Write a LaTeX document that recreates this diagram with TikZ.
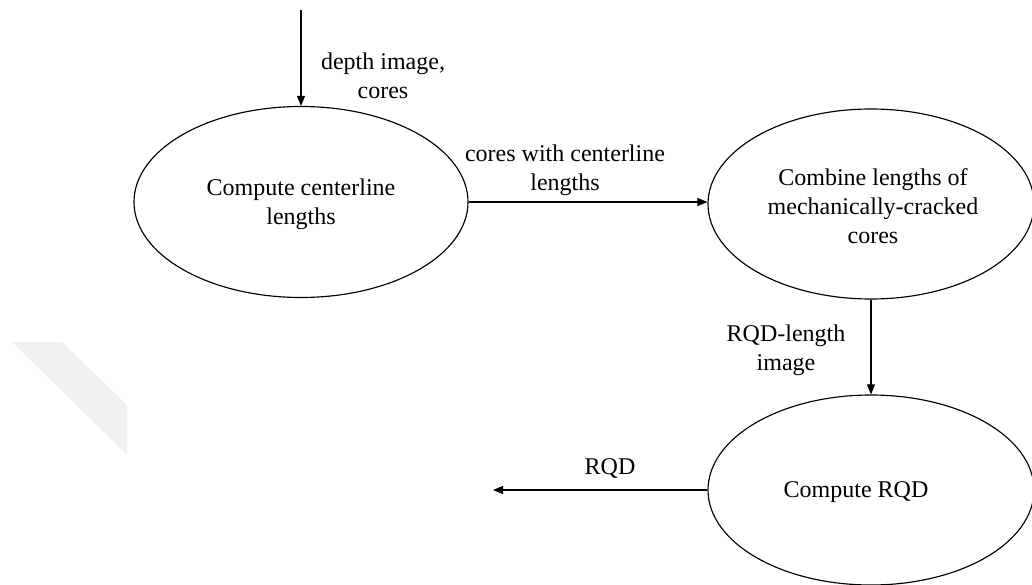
\documentclass[tikz,border=0pt]{standalone}
\usepackage{fontspec}
\setmainfont{Liberation Serif}
\usetikzlibrary{shapes.geometric,arrows.meta}
\begin{document}
\begin{tikzpicture}[x=1pt,y=-1pt,
  every node/.style={font=\fontsize{24}{29}\selectfont, align=center},
  proc/.style={draw, ellipse, line width=1.15pt, inner sep=0pt},
  flow/.style={line width=1.1pt, -{Triangle[length=10pt,width=8pt]}},
  lbl/.style={inner sep=0pt}
]
\useasboundingbox (0,0) rectangle (1032,585);
% faint watermark band
\fill[black!6] (12,342) -- (62,342) -- (127,405) -- (127,455) -- cycle;

\node[proc, minimum width=334pt, minimum height=191pt] (e1) at (301,202) {};
\node[lbl] (t1) at (301,204) {Compute centerline\\lengths};

\node[proc, minimum width=326pt, minimum height=190pt] (e2) at (871,204) {};
\node[lbl] (t2) at (873,206) {Combine lengths of\\mechanically-cracked\\cores};

\node[proc, minimum width=326pt, minimum height=190pt] (e3) at (871,490) {};
\node[lbl] (t3) at (856,492) {Compute RQD};

\coordinate (in) at (301,10);
\coordinate (out) at (493,490);

\draw[flow] (in) -- (e1.north);
\draw[flow] (e1.east) -- (e1.east -| e2.west);
\draw[flow] (e2.south) -- (e3.north);
\draw[flow] (e3.west) -- (out);

\node[lbl] (l1) at (383,76) {depth image,\\cores};
\node[lbl] (l2) at (565,170) {cores with centerline\\lengths};
\node[lbl] (l3) at (786,350) {RQD-length\\image};
\node[lbl] (l4) at (610,468) {RQD};
\end{tikzpicture}
\end{document}
